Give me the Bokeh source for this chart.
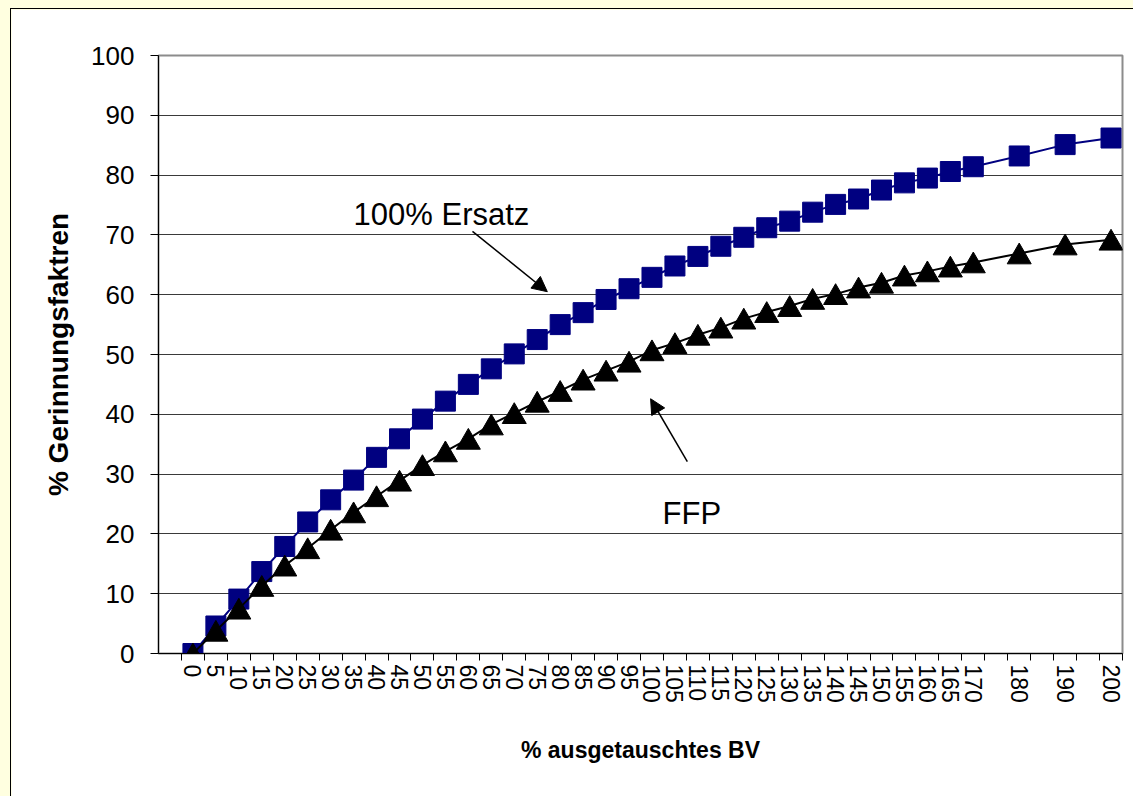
from bokeh.plotting import figure
from bokeh.models import FixedTicker, Range1d, ColumnDataSource, Arrow, NormalHead, Label
from bokeh.transform import dodge
from bokeh.embed import file_html
from bokeh.resources import INLINE

# ---- data ----
bv = [0, 5, 10, 15, 20, 25, 30, 35, 40, 45, 50, 55, 60, 65, 70, 75, 80, 85, 90, 95,
      100, 105, 110, 115, 120, 125, 130, 135, 140, 145, 150, 155, 160, 165, 170,
      180, 190, 200]
ersatz = [0, 4.6, 9.1, 13.7, 17.9, 22.0, 25.7, 29.0, 32.8, 35.9, 39.2, 42.2, 45.0, 47.6,
          50.1, 52.5, 55.0, 57.0, 59.2, 61.0, 62.9, 64.8, 66.4, 68.1, 69.6, 71.2, 72.3,
          73.8, 75.1, 76.0, 77.5, 78.7, 79.5, 80.6, 81.4, 83.2, 85.1, 86.2]
ffp = [0, 3.8, 7.5, 11.3, 14.7, 17.6, 20.7, 23.6, 26.3, 28.9, 31.5, 33.8, 35.9, 38.3,
       40.2, 42.1, 43.9, 45.8, 47.3, 48.8, 50.7, 51.9, 53.3, 54.5, 56.0, 57.1, 58.1,
       59.3, 60.1, 61.2, 62.0, 63.2, 63.9, 64.7, 65.4, 66.9, 68.4, 69.2]
y_ticks = [0, 10, 20, 30, 40, 50, 60, 70, 80, 90, 100]
x_title = "% ausgetauschtes BV"
y_title = "% Gerinnungsfaktren"
label_ersatz = "100% Ersatz"
label_ffp = "FFP"

FONT = "Liberation Sans"
NAVY = "#000080"

p = figure(width=1130, height=795,
           x_range=Range1d(-7.5, 202.5), y_range=Range1d(0, 100),
           output_backend="svg", toolbar_location=None,
           x_axis_location="below", y_axis_location="left",
           min_border_left=147, min_border_right=19, min_border_top=46, min_border_bottom=151,
           background_fill_color="white", border_fill_color="white",
           outline_line_color="#8c8c8c", outline_line_width=2)
p.styles = {"border-top": "1px solid black", "border-left": "1px solid black",
            "margin-left": "10px", "margin-top": "8px"}

# y axis
ya = p.yaxis[0]
ya.ticker = FixedTicker(ticks=y_ticks)
ya.axis_line_color = "black"
ya.axis_line_width = 1
ya.major_tick_out = 8
ya.major_tick_in = 0
ya.major_tick_line_color = "black"
ya.minor_tick_out = 0
ya.minor_tick_in = 0
ya.major_label_text_font = FONT
ya.major_label_text_font_size = "26px"
ya.major_label_text_color = "black"
ya.major_label_standoff = 16
ya.axis_label = y_title
ya.axis_label_text_font = FONT
ya.axis_label_text_font_size = "28px"
ya.axis_label_text_font_style = "bold"
ya.axis_label_text_color = "black"
ya.axis_label_standoff = 14

p.ygrid.grid_line_color = "#3a3a3a"
p.ygrid.grid_line_width = 1
p.xgrid.visible = False

# x axis: labels at the categories, tick marks between them (minor ticks)
xa = p.xaxis[0]
xa.ticker = FixedTicker(ticks=bv, minor_ticks=[-2.5 + 5 * k for k in range(42)])
xa.axis_line_color = "black"
xa.axis_line_width = 1
xa.major_tick_line_color = None
xa.major_tick_out = 7
xa.major_tick_in = 0
xa.minor_tick_line_color = "black"
xa.minor_tick_out = 7
xa.minor_tick_in = 0
xa.major_label_orientation = "vertical"
xa.major_label_text_font = FONT
xa.major_label_text_font_size = "23px"
xa.major_label_text_color = "black"
xa.major_label_standoff = 4
xa.axis_label = x_title
xa.axis_label_text_font = FONT
xa.axis_label_text_font_size = "23px"
xa.axis_label_text_font_style = "bold"
xa.axis_label_text_color = "black"
xa.axis_label_standoff = 31

# series
src_e = ColumnDataSource(dict(x=bv, y=ersatz))
src_f = ColumnDataSource(dict(x=bv, y=ffp))

p.line("x", "y", source=src_e, line_color=NAVY, line_width=2)
p.scatter("x", "y", source=src_e, marker="square", size=20,
          fill_color=NAVY, line_color=NAVY, line_width=1)

p.line("x", "y", source=src_f, line_color="black", line_width=2)
p.scatter("x", dodge("y", -0.58, range=p.y_range), source=src_f, marker="triangle",
          size=24, fill_color="black", line_color="black", line_width=1)

# annotations
p.add_layout(Label(x=35.0, y=73.4, text=label_ersatz, text_font=FONT,
                   text_font_size="31px", text_color="black",
                   text_align="left", text_baseline="alphabetic"))
p.add_layout(Label(x=102.3, y=23.4, text=label_ffp, text_font=FONT,
                   text_font_size="31px", text_color="black",
                   text_align="left", text_baseline="alphabetic"))
p.add_layout(Arrow(end=NormalHead(size=15, fill_color="black", line_color="black"),
                   x_start=60.9, y_start=70.6, x_end=77.2, y_end=60.5,
                   line_color="black", line_width=1.5))
p.add_layout(Arrow(end=NormalHead(size=15, fill_color="black", line_color="black"),
                   x_start=107.7, y_start=32.1, x_end=99.7, y_end=42.6,
                   line_color="black", line_width=1.5))

html = file_html(p, INLINE, title="Gerinnungsfaktoren")
html = html.replace("<head>", "<head>\n<style>html, body { background-color: #FFFFE0; overflow: hidden; }</style>", 1)
open("out.html", "w").write(html)
